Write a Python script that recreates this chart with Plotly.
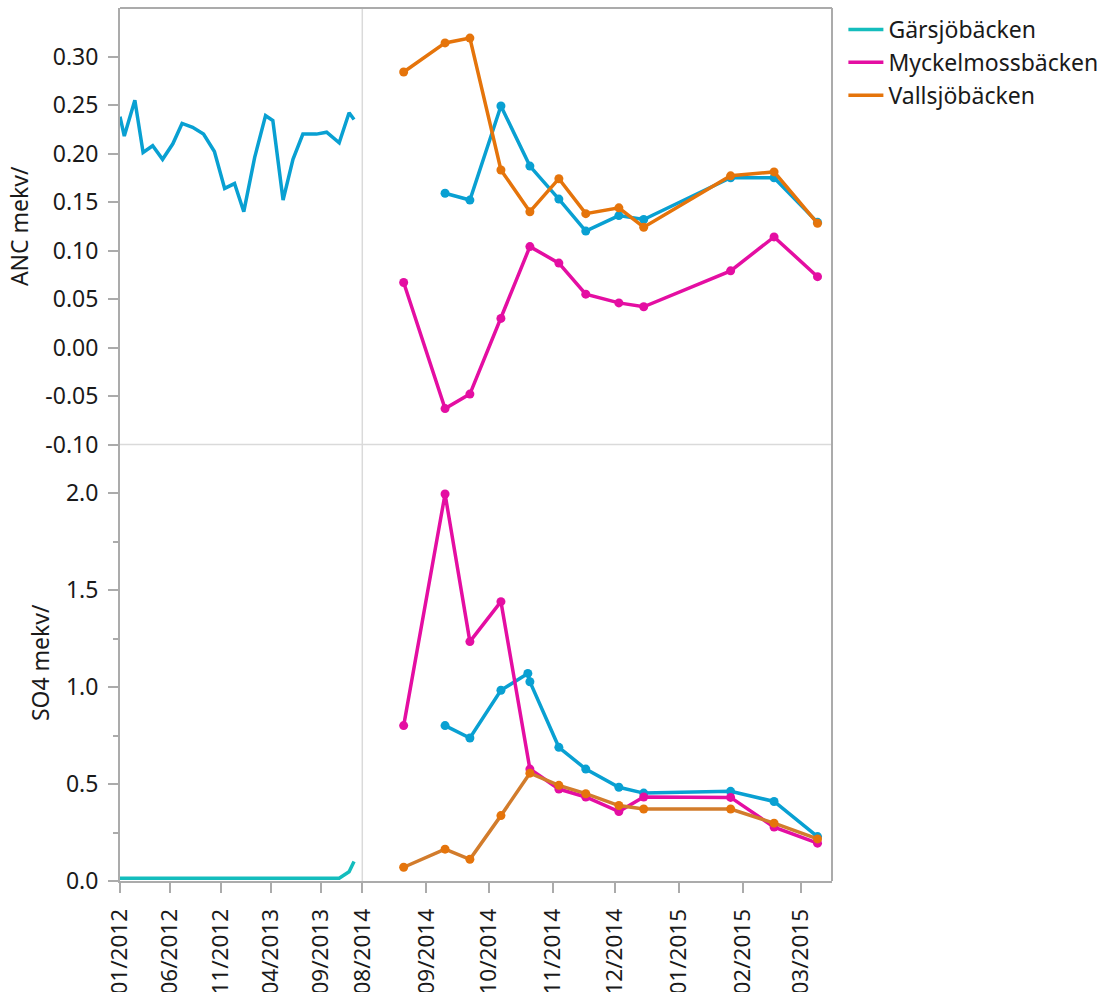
import plotly.graph_objects as go

# ---------------- early record, 2012-2013 (Gärsjöbäcken) ----------------
early_dates = [
    "2012-01-01", "2012-01-14", "2012-02-15", "2012-03-11", "2012-04-09",
    "2012-05-09", "2012-06-09", "2012-07-07", "2012-08-08", "2012-09-10",
    "2012-10-13", "2012-11-13", "2012-12-13", "2013-01-10", "2013-02-12",
    "2013-03-17", "2013-04-08", "2013-05-09", "2013-06-08", "2013-07-08",
    "2013-08-18", "2013-09-18", "2013-10-26", "2013-11-25", "2013-12-10",
]
early_anc = [
    0.238, 0.218, 0.255, 0.201, 0.208, 0.194, 0.210, 0.231, 0.227, 0.220,
    0.202, 0.164, 0.169, 0.140, 0.196, 0.239, 0.234, 0.152, 0.194, 0.220,
    0.220, 0.222, 0.211, 0.242, 0.235,
]
early_so4 = [
    0.014, 0.014, 0.014, 0.014, 0.014, 0.014, 0.014, 0.014, 0.014, 0.014,
    0.014, 0.014, 0.014, 0.014, 0.014, 0.014, 0.014, 0.014, 0.014, 0.014,
    0.014, 0.014, 0.014, 0.048, 0.100,
]

# ---------------- sampling campaign, 2014-2015 ----------------
camp_dates = [
    "2014-08-21", "2014-09-10", "2014-09-22", "2014-10-07", "2014-10-21",
    "2014-11-04", "2014-11-17", "2014-12-03", "2014-12-15", "2015-01-26",
    "2015-02-16", "2015-03-09",
]

gars_anc_dates = camp_dates[1:]
gars_anc = [0.159, 0.152, 0.249, 0.187, 0.153, 0.120, 0.136, 0.132, 0.175, 0.175, 0.129]
gars_so4_dates = [
    "2014-09-10", "2014-09-22", "2014-10-07", "2014-10-20", "2014-10-21",
    "2014-11-04", "2014-11-17", "2014-12-03", "2014-12-15", "2015-01-26",
    "2015-02-16", "2015-03-09",
]
gars_so4 = [0.801, 0.737, 0.983, 1.070, 1.027, 0.689, 0.577, 0.483, 0.453, 0.462, 0.410, 0.229]

myck_anc = [0.067, -0.063, -0.048, 0.030, 0.104, 0.087, 0.055, 0.046, 0.042, 0.079, 0.114, 0.073]
myck_so4 = [0.801, 1.995, 1.234, 1.440, 0.577, 0.474, 0.433, 0.358, 0.433, 0.431, 0.278, 0.195]

vall_anc = [0.284, 0.314, 0.319, 0.183, 0.140, 0.174, 0.138, 0.144, 0.124, 0.177, 0.181, 0.128]
vall_so4 = [0.071, 0.164, 0.112, 0.337, 0.556, 0.493, 0.450, 0.389, 0.371, 0.371, 0.298, 0.217]

anc_ticks = [-0.10, -0.05, 0.00, 0.05, 0.10, 0.15, 0.20, 0.25, 0.30]
so4_ticks = [0.0, 0.5, 1.0, 1.5, 2.0]
so4_minor = [0.25, 0.75, 1.25, 1.75]

# ---------------- styling ----------------
TEAL = "#14bdbd"
BLUE = "#09a0d2"
MAGENTA = "#e40ea2"
ORANGE = "#e5740b"
ORANGE_LINE = "#d27c2c"
AXIS = "#ababab"
SEP = "#dadada"
FAMILY = "Noto Sans, Open Sans, sans-serif"
FONT = dict(family=FAMILY, size=23, color="#1a1a1a")
XTICK_FONT = dict(family=FAMILY, size=22.5, color="#1a1a1a")
LEGEND_FONT = dict(family=FAMILY, size=23, color="#1a1a1a")
LW = 3.5
MS = 9
SPLIT = 0.3403  # where the early record ends and the campaign starts

fig = go.Figure()

# early record
fig.add_trace(go.Scatter(x=early_dates, y=early_anc, xaxis="x", yaxis="y",
                         mode="lines", line=dict(color=BLUE, width=LW),
                         name="Gärsjöbäcken", showlegend=False))
fig.add_trace(go.Scatter(x=early_dates, y=early_so4, xaxis="x3", yaxis="y2",
                         mode="lines", line=dict(color=TEAL, width=LW),
                         name="Gärsjöbäcken", showlegend=True, legendrank=1))


def add_series(x, y, xa, ya, line_color, marker_color, name, legend, rank):
    fig.add_trace(go.Scatter(x=x, y=y, xaxis=xa, yaxis=ya, mode="lines",
                             line=dict(color=line_color, width=LW),
                             name=name, showlegend=legend, legendrank=rank))
    fig.add_trace(go.Scatter(x=x, y=y, xaxis=xa, yaxis=ya, mode="markers",
                             marker=dict(color=marker_color, size=MS),
                             name=name, showlegend=False))


# ANC panel
add_series(gars_anc_dates, gars_anc, "x2", "y", BLUE, BLUE, "Gärsjöbäcken", False, 10)
add_series(camp_dates, myck_anc, "x2", "y", MAGENTA, MAGENTA, "Myckelmossbäcken", True, 2)
add_series(camp_dates, vall_anc, "x2", "y", ORANGE, ORANGE, "Vallsjöbäcken", True, 3)

# SO4 panel
add_series(gars_so4_dates, gars_so4, "x4", "y2", BLUE, BLUE, "Gärsjöbäcken", False, 10)
add_series(camp_dates, myck_so4, "x4", "y2", MAGENTA, MAGENTA, "Myckelmossbäcken", False, 10)
add_series(camp_dates, vall_so4, "x4", "y2", ORANGE_LINE, ORANGE, "Vallsjöbäcken", False, 10)

hidden_x = dict(showticklabels=False, ticks="", showline=False, showgrid=False,
                zeroline=False, type="date")
bottom_x = dict(type="date", tickformat="%m/%Y", tickangle=-90, ticks="outside",
                ticklen=10, tickwidth=2, tickcolor=AXIS, showline=True,
                linecolor=AXIS, linewidth=2, showgrid=False, zeroline=False,
                tickfont=XTICK_FONT, ticklabelstandoff=7)
left_range = ["2012-01-01", "2014-01-04"]
right_range = ["2014-08-01", "2015-03-16"]

y_common = dict(ticks="outside", ticklen=10, tickwidth=2, tickcolor=AXIS,
                showline=True, linecolor=AXIS, linewidth=2, showgrid=False,
                zeroline=False, tickfont=FONT, ticklabelstandoff=5)

fig.update_layout(
    width=1099, height=1030,
    margin=dict(l=120, r=267, t=8, b=149, autoexpand=False),
    paper_bgcolor="white", plot_bgcolor="white",
    font=FONT,
    xaxis=dict(domain=[0, SPLIT], anchor="y", range=left_range, **hidden_x),
    xaxis2=dict(domain=[SPLIT, 1], anchor="y", range=right_range, **hidden_x),
    xaxis3=dict(domain=[0, SPLIT], anchor="y2", range=left_range,
                dtick="M5", tick0="2012-01-01", **bottom_x),
    xaxis4=dict(domain=[SPLIT, 1], anchor="y2", range=right_range,
                dtick="M1", tick0="2014-08-01", **bottom_x),
    yaxis=dict(domain=[0.5, 1], anchor="x", range=[-0.10, 0.35],
               tickvals=anc_ticks, ticktext=[f"{v:.2f}" for v in anc_ticks],
               title=dict(text="ANC mekv/", font=FONT, standoff=10), **y_common),
    yaxis2=dict(domain=[0, 0.5], anchor="x3", range=[0, 2.25],
                tickvals=so4_ticks, ticktext=[f"{v:.1f}" for v in so4_ticks],
                minor=dict(tickvals=so4_minor, ticks="outside", ticklen=5,
                           tickwidth=2, tickcolor=AXIS),
                title=dict(text="SO4 mekv/", font=FONT, standoff=10), **y_common),
    legend=dict(x=1.016, y=1.0, xanchor="left", yanchor="top",
                font=LEGEND_FONT, bgcolor="rgba(0,0,0,0)", traceorder="normal",
                tracegroupgap=0, itemwidth=35),
    shapes=[
        dict(type="line", xref="paper", yref="paper", x0=0, x1=1, y0=0.5, y1=0.5,
             line=dict(color=SEP, width=1.5)),
        dict(type="line", xref="paper", yref="paper", x0=SPLIT, x1=SPLIT, y0=0, y1=1,
             line=dict(color=SEP, width=1.5)),
        dict(type="line", xref="paper", yref="paper", x0=0, x1=1, y0=1, y1=1,
             line=dict(color=AXIS, width=2)),
        dict(type="line", xref="paper", yref="paper", x0=1, x1=1, y0=0, y1=1,
             line=dict(color=AXIS, width=2)),
    ],
)

fig.write_html("out.html")
